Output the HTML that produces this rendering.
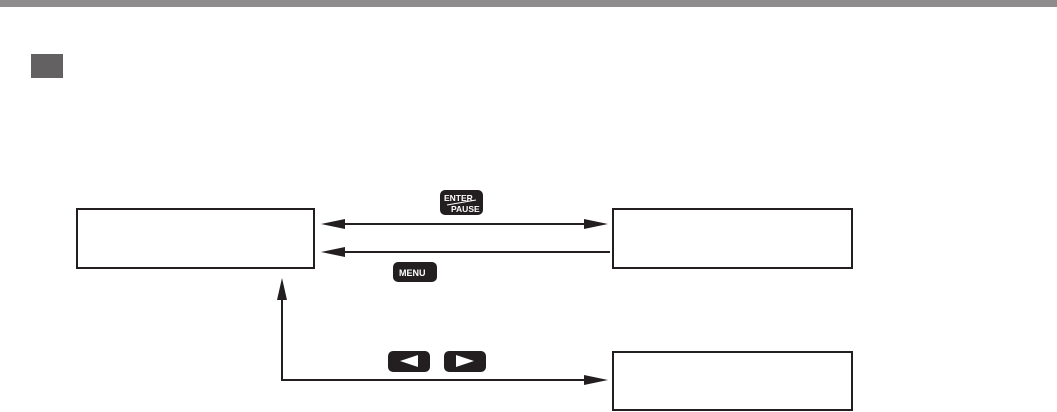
<!DOCTYPE html>
<html><head><style>
body{margin:0;width:1057px;height:412px;background:#fff;overflow:hidden;position:relative;font-family:"Liberation Sans",sans-serif}
.a{position:absolute}
.box{position:absolute;border:2px solid #231f20;box-sizing:border-box}
</style></head><body>
<div class="a" style="left:0;top:0;width:1057px;height:7px;background:#8f8c8d"></div>
<div class="a" style="left:31px;top:54px;width:32px;height:24px;background:#646162"></div>
<div class="box" style="left:76px;top:208px;width:239px;height:61px"></div>
<div class="box" style="left:612px;top:208px;width:241px;height:61px"></div>
<div class="box" style="left:612px;top:351px;width:241px;height:60px"></div>
<svg class="a" style="left:0;top:0" width="1057" height="412">
<g stroke="#231f20" stroke-width="2" fill="none">
<line x1="335" y1="224" x2="594" y2="224"/>
<line x1="335" y1="252" x2="610" y2="252"/>
<polyline points="282,292 282,380 594,380"/>
</g>
<g fill="#231f20">
<polygon points="321,224 345,219 345,229"/>
<polygon points="608,224 584,219 584,229"/>
<polygon points="321,252 345,247 345,257"/>
<polygon points="282,278 277,300 287,300"/>
<polygon points="608,380 584,375 584,385"/>
<rect x="440" y="190" width="43" height="25" rx="5"/>
<rect x="393" y="262" width="44" height="20" rx="5"/>
<rect x="388" y="351" width="42" height="21" rx="5"/>
<rect x="444" y="351" width="42" height="21" rx="5"/>
</g>
<g fill="#fff">
<polygon points="400,361 418,355 418,367"/>
<polygon points="474,361 456,355 456,367"/>
</g>
<line x1="447" y1="205" x2="476" y2="200" stroke="#fff" stroke-width="1"/>
<text x="444" y="201" fill="#fff" font-size="8.5" font-weight="bold">ENTER</text>
<text x="451" y="212" fill="#fff" font-size="8.5" font-weight="bold">PAUSE</text>
<text x="399" y="276" fill="#fff" font-size="9" font-weight="bold">MENU</text>
</svg>
</body></html>
